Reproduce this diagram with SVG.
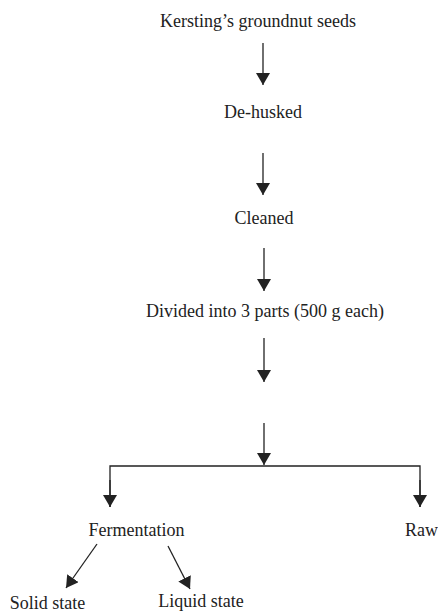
<svg xmlns="http://www.w3.org/2000/svg" width="438" height="613" viewBox="0 0 438 613">
<style>
text{font-family:"Liberation Serif","DejaVu Serif",serif;font-size:18px;fill:#222;text-anchor:middle}
.c line,.c path{stroke:#222;stroke-width:1.3;fill:none}
</style>
<defs>
<marker id="ah" markerUnits="userSpaceOnUse" markerWidth="14" markerHeight="14" refX="12" refY="7" orient="auto">
<path d="M0,0 L12,7 L0,14 z" fill="#222"/>
</marker>
</defs>
<rect width="438" height="613" fill="#fff"/>
<g class="c" id="connectors">
<line x1="263" y1="43" x2="263" y2="85" marker-end="url(#ah)"/>
<line x1="263" y1="153" x2="263" y2="195" marker-end="url(#ah)"/>
<line x1="264" y1="248" x2="264" y2="291" marker-end="url(#ah)"/>
<line x1="264" y1="338" x2="264" y2="382" marker-end="url(#ah)"/>
<line x1="264" y1="423" x2="264" y2="465" marker-end="url(#ah)"/>
<path d="M110,507 V466 H420 V507"/>
<line x1="110" y1="480" x2="110" y2="507" marker-end="url(#ah)"/>
<line x1="420" y1="480" x2="420" y2="507" marker-end="url(#ah)"/>
<line x1="97" y1="544" x2="66" y2="588" marker-end="url(#ah)"/>
<line x1="168" y1="546" x2="190" y2="589" marker-end="url(#ah)"/>
</g>
<g id="n1"><text x="258" y="27">Kersting’s groundnut seeds</text></g>
<g id="n2"><text x="263" y="118">De-husked</text></g>
<g id="n3"><text x="264" y="224">Cleaned</text></g>
<g id="n4"><text x="265" y="317">Divided into 3 parts (500 g each)</text></g>
<g id="n5"><text x="136.5" y="536">Fermentation</text></g>
<g id="n6"><text x="421.5" y="536">Raw</text></g>
<g id="n7"><text x="47.5" y="609">Solid state</text></g>
<g id="n8"><text x="201" y="607">Liquid state</text></g>
</svg>
